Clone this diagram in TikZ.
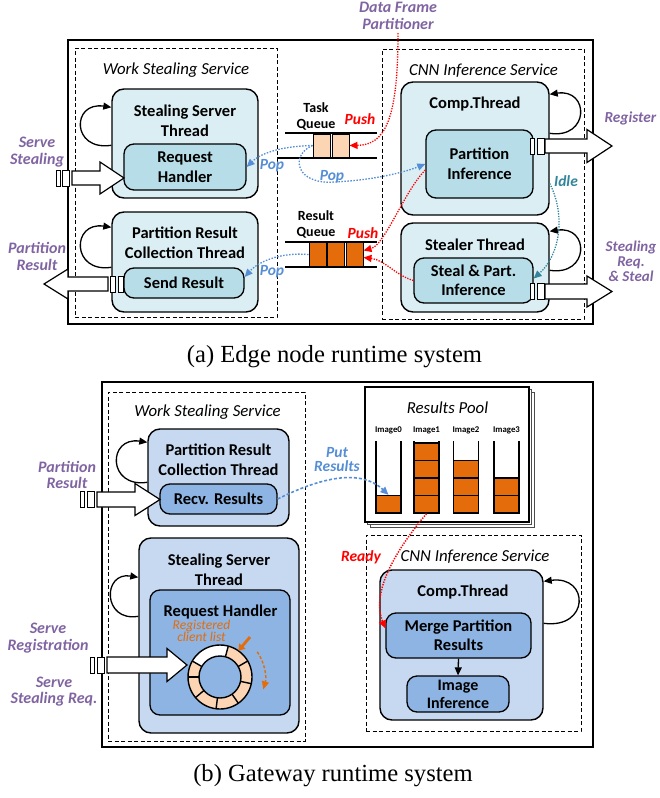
\documentclass[tikz,border=0pt]{standalone}
\usepackage{fontspec}
\setmainfont{Carlito}
\newfontfamily\capfont{Liberation Serif}
\usetikzlibrary{arrows.meta,calc}
\definecolor{cyanlight}{HTML}{DAEEF3}
\definecolor{cyandark}{HTML}{B7DEE8}
\definecolor{bluelight}{HTML}{C6D9F1}
\definecolor{bluedark}{HTML}{8DB4E2}
\definecolor{peach}{HTML}{FCD5B5}
\definecolor{rust}{HTML}{E46C0A}
\definecolor{lavender}{HTML}{8064A2}
\definecolor{popblue}{HTML}{558ED5}
\definecolor{tealgreen}{HTML}{31859C}

\begin{document}
\begin{tikzpicture}[x=1pt,y=-1pt,>={Triangle[length=8pt,width=7pt]},
  sz/.style 2 args={minimum width=#1,minimum height=#2},
  outerframe/.style={draw,line width=1.6,inner sep=0},
  service/.style={draw,line width=1,dash pattern=on 4pt off 2.5pt,inner sep=0},
  thread/.style={draw,line width=1.4,rounded corners=12,inner sep=0},
  task/.style={draw,line width=1.3,rounded corners=10,inner sep=0,align=center,font=\fontsize{16.5}{19.5}\selectfont\bfseries},
  title/.style={align=center,font=\fontsize{16.5}{19.5}\selectfont\bfseries},
  svclabel/.style={font=\fontsize{16.8}{19}\selectfont\itshape},
  extlabel/.style={text=lavender,align=center,font=\fontsize{16}{16.5}\selectfont\bfseries\itshape},
  qlabel/.style={align=center,font=\fontsize{14}{16}\selectfont\bfseries},
  actlabel/.style={font=\fontsize{15.5}{16}\selectfont\bfseries\itshape},
  cell/.style={draw,line width=1,inner sep=0},
  blockarrow/.style={draw,fill=white,line width=1.2},
  port/.style={draw,fill=white,line width=1},
  loopy/.style={line width=1.3,->},
  pushline/.style={red,line width=1.3,dash pattern=on 1.3pt off 1.3pt,->},
  popline/.style={popblue,line width=1.3,dash pattern=on 1.5pt off 1.5pt,->},
  idleline/.style={tealgreen,line width=1.3,dash pattern=on 1.3pt off 1.3pt,->},
  putline/.style={popblue,line width=1.6,dash pattern=on 3pt off 2pt,->},
  figcap/.style={font=\capfont\fontsize{24.6}{28}\selectfont}]
\useasboundingbox (0,0) rectangle (659,798);

% ---------- (a) edge node ----------
\node[outerframe,sz={525}{284}] (edge) at (330.5,182) {};
\node[service,sz={202}{269}] (wsa) at (176,182.5) {};
\node[service,sz={202}{270}] (cnna) at (483,184) {};
\node[svclabel] (wsalab) at (176,70) {Work Stealing Service};
\node[svclabel] (cnnalab) at (483.5,71) {CNN Inference Service};

\node[thread,fill=cyanlight,sz={146}{109}] (sst) at (185,143.5) {};
\node[title] (ssttitle) at (185,121) {Stealing Server\\Thread};
\node[task,fill=cyandark,sz={122}{46}] (rh) at (185,167) {Request\\Handler};
\node[thread,fill=cyanlight,sz={146}{100}] (prc) at (185,262) {};
\node[title] (prctitle) at (185,243) {Partition Result\\Collection Thread};
\node[task,fill=cyandark,sz={120}{30}] (sr) at (184,283) {Send Result};

\node[thread,fill=cyanlight,sz={148}{133}] (comp) at (475,148.5) {};
\node[title] (comptitle) at (475,104) {Comp.Thread};
\node[task,fill=cyandark,sz={107}{68}] (pinf) at (479.5,164) {Partition\\Inference};
\node[thread,fill=cyanlight,sz={148}{89}] (stl) at (475,267.5) {};
\node[title] (stltitle) at (475,245) {Stealer Thread};
\node[task,fill=cyandark,sz={119}{45}] (spinf) at (473.5,280.5) {Steal \& Part.\\Inference};

% self loops
\draw[loopy] ($(sst.north west)+(0,57)$) .. controls +(-40,6) and +(-40,-6) .. ($(sst.north west)+(0,19)$);
\draw[loopy] ($(prc.north west)+(0,56)$) .. controls +(-40,6) and +(-40,-6) .. ($(prc.north west)+(0,16)$);
\draw[loopy] ($(comp.north east)+(0,52)$) .. controls +(40,6) and +(40,-6) .. ($(comp.north east)+(0,13)$);
\draw[loopy] ($(stl.north east)+(0,48)$) .. controls +(40,6) and +(40,-6) .. ($(stl.north east)+(0,9)$);

% queues
\draw[line width=1.3] (285,133) -- (377,133) (277,158) -- (377,158);
\foreach \x [count=\i] in {321.5,340.5}
  \node[cell,fill=peach,sz={17}{23}] (tq\i) at (\x,145.5) {};
\node[qlabel] (tqlab) at (316,116) {Task\\Queue};
\draw[line width=1.3] (285,242) -- (377,242) (285,267) -- (377,267);
\foreach \x [count=\i] in {317.5,336,354.5}
  \node[cell,fill=rust,sz={17}{24}] (rq\i) at (\x,254.5) {};
\node[qlabel] (rqlab) at (316,224) {Result\\Queue};

% outside parties
\node[extlabel] (dfp) at (398,16) {Data Frame\\Partitioner};
\node[extlabel] (serve) at (37,152) {Serve\\Stealing};
\node[extlabel] (presa) at (37,256.5) {Partition\\Result};
\node[extlabel,anchor=west,font=\fontsize{15.3}{16}\selectfont\bfseries\itshape] (reg) at (601,118) {Register};
\node[extlabel,font=\fontsize{15}{15}\selectfont\bfseries\itshape] (stlreq) at (631,261) {Stealing\\Req.\\\& Steal};

% block arrows with their port slots
\foreach \xs/\xh/\xt/\c/\h/\H/\pa/\pb in {72/100/124/178/7/16/56/62, 545/587/612/146/7/16.5/530/537, 545/587/612/291.5/7.5/15.5/530/537}{
  \draw[blockarrow] (\xs,\c-\h) -- (\xh,\c-\h) -- (\xh,\c-\H) -- (\xt,\c) -- (\xh,\c+\H) -- (\xh,\c+\h) -- (\xs,\c+\h) -- cycle;
  \draw[port] (\pa,\c-8) rectangle +(4.5,16);
  \draw[port] (\pb,\c-8) rectangle +(7,16);
}
\draw[blockarrow] (108,277) -- (68,277) -- (68,269) -- (44,284) -- (68,299) -- (68,291) -- (108,291) -- cycle;
\draw[port] (110,276) rectangle +(5.5,16);
\draw[port] (118.5,276) rectangle +(5,16);

% push / pop / idle
\draw[pushline] (dfp.south) .. controls (398,120) and (385,145) .. (tq2.east);
\draw[pushline] ([yshift=-6]pinf.west) .. controls (405,190) and (385,245) .. ([yshift=4]rq3.east);
\draw[pushline] (spinf.west) .. controls (395,275) and (385,260) .. ([yshift=-3]rq3.east);
\node[actlabel,text=red] (push1) at (360,119) {Push};
\node[actlabel,text=red] (push2) at (363,233) {Push};
\draw[popline] (tq1.west) .. controls (285,146) and (262,152) .. (rh.east);
\draw[popline] (tq1.west) .. controls (290,155) and (295,185) .. (335,182) .. controls (375,180) and (405,172) .. (pinf.west);
\draw[popline] (rq1.west) .. controls (280,252) and (258,262) .. ([yshift=6]sr.east);
\node[actlabel,text=popblue] (pop1) at (272,166) {Pop};
\node[actlabel,text=popblue] (pop2) at (332,177) {Pop};
\node[actlabel,text=popblue] (pop3) at (272,272) {Pop};
\draw[idleline] ([yshift=-35]comp.east) .. controls (566,215) and (560,255) .. ([yshift=2]spinf.east);
\node[actlabel,text=tealgreen] (idle) at (566,181) {Idle};

\node[figcap] (capa) at (334.5,357) {(a) Edge node runtime system};

% ---------- (b) gateway ----------
\node[outerframe,sz={491}{365}] (gate) at (347.5,564.5) {};
\node[service,sz={197}{349}] (wsb) at (206.5,566.5) {};
\node[service,sz={215}{196}] (cnnb) at (473.5,633) {};
\node[svclabel] (wsblab) at (207.5,412) {Work Stealing Service};
\node[svclabel] (cnnblab) at (475,557) {CNN Inference Service};

\node[thread,fill=bluelight,sz={141}{97}] (prc2) at (218.5,477.5) {};
\node[title] (prc2title) at (218.5,460) {Partition Result\\Collection Thread};
\node[task,fill=bluedark,sz={117}{30}] (recv) at (218.5,499) {Recv. Results};
\node[thread,fill=bluelight,sz={160}{195}] (sst2) at (219,635.5) {};
\node[title] (sst2title) at (219,570) {Stealing Server\\Thread};
\node[task,fill=bluedark,sz={140}{125}] (rh2) at (220,652.5) {};
\node[title] (rh2title) at (220.5,612) {Request Handler};
\node[align=center,text=rust,font=\fontsize{13.5}{9.5}\selectfont\itshape] (reglist) at (201.5,631) {Registered\\client list};

\node[thread,fill=bluelight,sz={163}{150}] (comp2) at (461.5,645) {};
\node[title] (comp2title) at (463,592) {Comp.Thread};
\node[task,fill=bluedark,sz={145}{45}] (merge) at (458.5,635.5) {Merge Partition\\Results};
\node[task,fill=bluedark,sz={102}{36},font=\fontsize{16}{18}\selectfont\bfseries] (imginf) at (458,694) {Image\\Inference};
\draw[line width=1.3,->] (merge.south) -- (imginf.north);

\draw[loopy] ($(prc2.north west)+(0,54)$) .. controls +(-40,6) and +(-40,-6) .. ($(prc2.north west)+(0,14)$);
\draw[loopy] ($(sst2.north west)+(0,79)$) .. controls +(-36,6) and +(-36,-6) .. ($(sst2.north west)+(0,40)$);
\draw[loopy] ($(comp2.north east)+(0,54)$) .. controls +(46,6) and +(46,-6) .. ($(comp2.north east)+(0,12)$);

% results pool
\foreach \d in {5,2.5}
  \draw[fill=white,draw=black!70,line width=1] (365+\d,387+\d) rectangle (529+\d,522+\d);
\node[draw,fill=white,line width=1.2,sz={164}{135}] (pool) at (447,454.5) {};
\node[svclabel] (poollab) at (447.5,408) {Results Pool};
\foreach \x/\n [count=\i from 0] in {388.5/1,426.5/4,466/3,506.5/2}{
  \node[font=\fontsize{8.8}{10}\selectfont\bfseries] (img\i) at (\x,430) {Image\i};
  \foreach \k in {1,...,\n}
    \node[cell,fill=rust,line width=1.3,sz={25}{17.5}] (b\i-\k) at (\x,513-17.5*\k+8.75) {};
  \draw[line width=1.6] (\x-12.5,441) -- (\x-12.5,513) -- (\x+12.5,513) -- (\x+12.5,441);
}

% registered client ring
\node[circle,inner sep=0,sz={64}{64}] (ring) at (220,677) {};
\fill[peach,even odd rule] (ring.center) circle[radius=32] circle[radius=21];
\fill[white] ([shift={(-75:32)}]ring.center) arc[start angle=-75,end angle=-150,radius=32]
  -- ([shift={(-150:21)}]ring.center) arc[start angle=-150,end angle=-75,radius=21] -- cycle;
\draw[line width=1.4] (ring.center) circle[radius=32] circle[radius=21];
\foreach \a in {-75,-30,12,55,97,140,180,-150}
  \draw[line width=1.4] ([shift={(\a:21)}]ring.center) -- ([shift={(\a:32)}]ring.center);
\coordinate (ptr) at (250,637);
\draw[rust,line width=2.8,-{Triangle[length=6pt,width=8pt]}] (ptr) -- (ring.55);
\draw[rust,line width=1.4,dash pattern=on 3pt off 2pt,->] ([shift={(-34:45)}]ring.center) arc[start angle=-34,end angle=16,radius=45];

% outside parties
\node[extlabel] (presb) at (67,475) {Partition\\Result};
\node[extlabel] (servereg) at (48,638) {Serve\\Registration};
\node[extlabel] (servereq) at (54,691.5) {Serve\\Stealing Req.};
\foreach \xs/\xh/\xt/\c/\h/\H/\pa/\pb in {97/135/160/499.5/7.5/16/80/87, 107/167/187/665/8/16.5/90/97}{
  \draw[blockarrow] (\xs,\c-\h) -- (\xh,\c-\h) -- (\xh,\c-\H) -- (\xt,\c) -- (\xh,\c+\H) -- (\xh,\c+\h) -- (\xs,\c+\h) -- cycle;
  \draw[port] (\pa,\c-8) rectangle +(4.5,16);
  \draw[port] (\pb,\c-8) rectangle +(7,16);
}

% put / ready
\draw[putline] (recv.east) .. controls (320,478) and (360,468) .. (b0-1.north);
\node[actlabel,text=popblue,align=center,font=\fontsize{15.5}{14}\selectfont\bfseries\itshape] (put) at (337,460) {Put\\Results};
\draw[pushline,line width=1.5] (b1-1.south) .. controls (400,545) and (370,590) .. ([yshift=7]merge.west);
\node[actlabel,text=red] (ready) at (361,557) {Ready};

\node[figcap] (capb) at (333,776) {(b) Gateway runtime system};
\end{tikzpicture}
\end{document}
